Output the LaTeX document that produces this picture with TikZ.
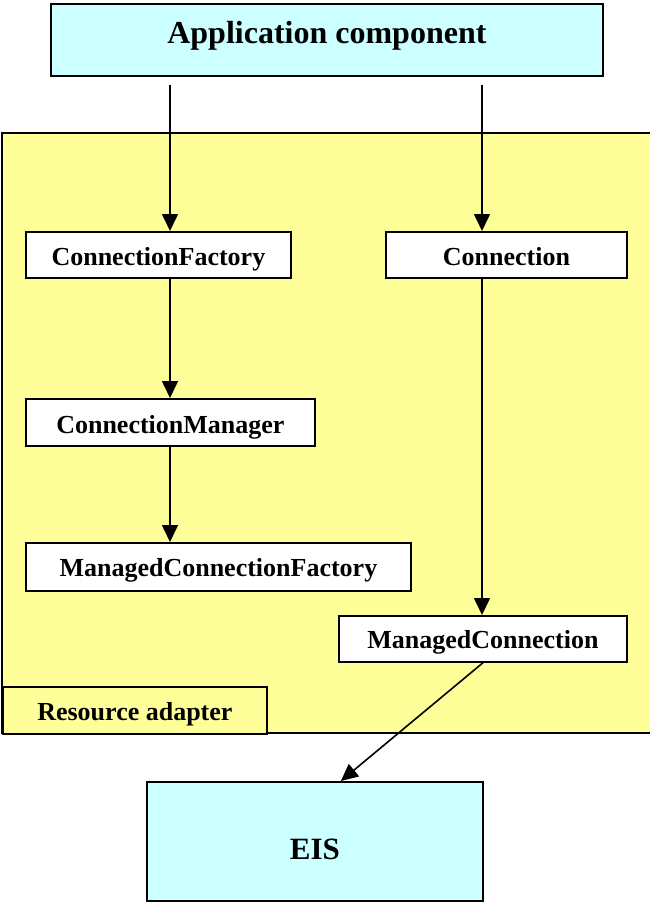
\documentclass[tikz,border=0pt]{standalone}
\usepackage{fontspec}
\setmainfont{Liberation Serif}
\usetikzlibrary{arrows.meta}
\definecolor{cyanbox}{HTML}{CCFFFF}
\definecolor{yellowbox}{HTML}{FFFF99}
\tikzset{
  box/.style={draw, line width=1.8pt, inner sep=0pt, anchor=north west,
    font=\bfseries\fontsize{26}{26}\selectfont},
  arr/.style={line width=1.6pt, -{Triangle[length=17pt,width=16pt]}}
}
\begin{document}
\begin{tikzpicture}[x=1pt,y=-1pt]
\useasboundingbox (0,0) rectangle (649,902);
% resource adapter region
\draw[line width=1.8pt, fill=yellowbox] (2,133) rectangle (660,733);
\node[box, fill=yellowbox, minimum width=264pt, minimum height=47pt, text height=34pt, text depth=13pt] (ra) at (2,686) {Resource adapter};
% application component
\node[box, fill=cyanbox, minimum width=552pt, minimum height=72pt, text height=40pt, text depth=32pt,
  font=\bfseries\fontsize{32}{32}\selectfont] (app) at (50,3) {Application component};
% inner boxes
\node[box, fill=white, minimum width=265pt, minimum height=46pt, text height=34pt, text depth=12pt] (cf) at (25,231) {ConnectionFactory};
\node[box, fill=white, minimum width=241pt, minimum height=46pt, text height=34pt, text depth=12pt] (conn) at (385,231) {Connection};
\node[box, fill=white, minimum width=289pt, minimum height=47pt, text height=35pt, text depth=12pt] (cm) at (25,398) {ConnectionManager};
\node[box, fill=white, minimum width=385pt, minimum height=48pt, text height=34pt, text depth=14pt] (mcf) at (25,542) {ManagedConnectionFactory};
\node[box, fill=white, minimum width=288pt, minimum height=46pt, text height=33pt, text depth=13pt] (mc) at (338,615) {ManagedConnection};
% EIS
\node[box, fill=cyanbox, minimum width=336pt, minimum height=119pt, text height=78pt, text depth=41pt,
  font=\bfseries\fontsize{31}{31}\selectfont] (eis) at (146,781) {EIS};
% connectors
\coordinate (s1) at (170,85);
\coordinate (s2) at (482,85);
\draw[arr] (s1) -- (s1 |- cf.north);
\draw[arr] (s2) -- (s2 |- conn.north);
\draw[arr] (s1 |- cf.south) -- (s1 |- cm.north);
\draw[arr] (s1 |- cm.south) -- (s1 |- mcf.north);
\draw[arr] (s2 |- conn.south) -- (s2 |- mc.north);
\draw[arr] (mc.south) -- ([xshift=26pt]eis.north);
\end{tikzpicture}
\end{document}
